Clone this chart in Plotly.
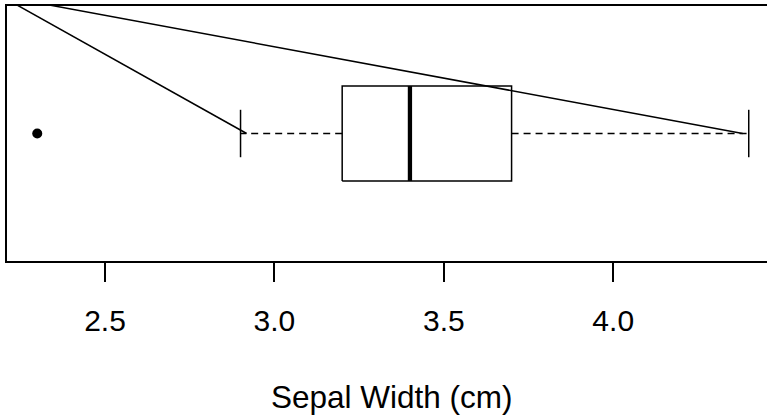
import plotly.graph_objects as go

# Boxplot statistics (Sepal Width, cm)
q1 = 3.2
median = 3.4
q3 = 3.7
lower_whisker = 2.9
upper_whisker = 4.4
outliers = [2.3]
group_pos = 1.0

# Pointer lines (start outside plot, end near whisker ends)
pointer_start_x = [2.193, 2.193]
pointer_start_y = [1.539, 1.539]
pointer_end_x = [2.918, 4.382]
pointer_end_y = [1.0, 1.0]

tick_vals = [2.5, 3.0, 3.5, 4.0]
tick_text = ["2.5", "3.0", "3.5", "4.0"]
x_title = "Sepal Width (cm)"

box_half = 0.186
cap_half = 0.093
FONT = "Liberation Sans, Arial, sans-serif"
LW = 1.5

fig = go.Figure()

# box rectangle
fig.add_trace(go.Scatter(
    x=[q1, q3, q3, q1, q1],
    y=[group_pos - box_half, group_pos - box_half, group_pos + box_half, group_pos + box_half, group_pos - box_half],
    mode="lines", line=dict(color="black", width=LW), hoverinfo="skip"))
# median
fig.add_trace(go.Scatter(x=[median, median], y=[group_pos - box_half, group_pos + box_half],
                         mode="lines", line=dict(color="black", width=4.3), hoverinfo="skip"))
# whiskers (dashed), drawn from hinge outward
fig.add_trace(go.Scatter(x=[q1, lower_whisker, None, q3, upper_whisker],
                         y=[group_pos, group_pos, None, group_pos, group_pos],
                         mode="lines", line=dict(color="black", width=LW, dash="7px,5px"), hoverinfo="skip"))
# caps
fig.add_trace(go.Scatter(x=[lower_whisker, lower_whisker, None, upper_whisker, upper_whisker],
                         y=[group_pos - cap_half, group_pos + cap_half, None, group_pos - cap_half, group_pos + cap_half],
                         mode="lines", line=dict(color="black", width=LW), hoverinfo="skip"))
# outliers
fig.add_trace(go.Scatter(x=outliers, y=[group_pos] * len(outliers), mode="markers",
                         marker=dict(color="black", size=10), hoverinfo="skip"))
# pointer lines
for sx, sy, ex, ey in zip(pointer_start_x, pointer_start_y, pointer_end_x, pointer_end_y):
    fig.add_trace(go.Scatter(x=[sx, ex], y=[sy, ey], mode="lines",
                             line=dict(color="black", width=LW), hoverinfo="skip"))

fig.add_annotation(text=x_title, x=3.347, xref="x", y=-0.533, yref="paper",
                   yanchor="middle", xanchor="center", showarrow=False,
                   font=dict(family=FONT, size=31.5, color="black"))

fig.update_layout(
    width=767, height=416,
    margin=dict(l=7, r=0, t=6, b=155),
    paper_bgcolor="white", plot_bgcolor="white",
    showlegend=False,
    xaxis=dict(range=[2.2107, 4.4539], tickvals=tick_vals, ticktext=tick_text,
               ticks="outside", ticklen=19, tickwidth=LW, tickcolor="black",
               ticklabelstandoff=13,
               showline=True, linecolor="black", linewidth=LW, mirror=True,
               showgrid=False, zeroline=False,
               tickfont=dict(family=FONT, size=30, color="black")),
    yaxis=dict(range=[0.5, 1.5], showticklabels=False, ticks="",
               showline=True, linecolor="black", linewidth=LW, mirror=False,
               showgrid=False, zeroline=False),
)

fig.write_html("out.html", config={"displayModeBar": False},
               post_script="document.body.style.margin='0';")
